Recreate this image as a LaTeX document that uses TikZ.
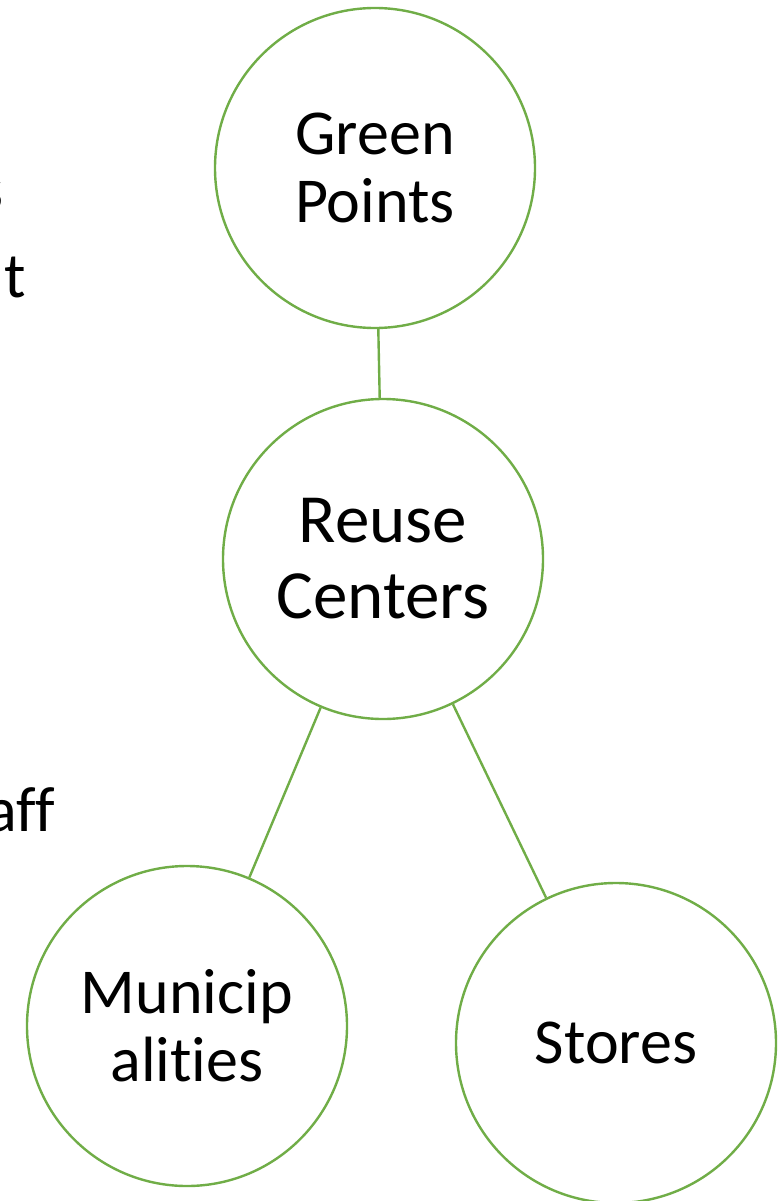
\documentclass[tikz,border=0pt]{standalone}
\usepackage{fontspec}
\setmainfont{Carlito}[Ligatures={NoCommon,NoRequired,NoContextual}]
\definecolor{accgreen}{HTML}{70AD47}
\begin{document}
\begin{tikzpicture}[x=1pt,y=-1pt,
  bubble/.style={circle,draw=accgreen,line width=2.4pt,fill=white,minimum size=320pt,inner sep=0pt,align=center,font=\fontsize{64}{68}\selectfont},
  bigtext/.style={font=\fontsize{69}{76}\selectfont},
  link/.style={draw=accgreen,line width=2.4pt},
  frag/.style={anchor=base east,inner sep=0pt,font=\fontsize{64}{68}\selectfont}]
\useasboundingbox (0,0) rectangle (779,1201);
\clip (0,0) rectangle (779,1201);
\node[frag] (f1) at (4,211) {s};
\node[frag] (f2) at (26,297) {t};
\node[frag] (f3) at (55,831) {aff};
\node[bubble] (gp) at (375,168) {Green\\Points};
\node[bubble,bigtext] (rc) at (383,559) {Reuse\\Centers};
\node[bubble] (mu) at (187,1026) {Municip\\alities};
\node[bubble] (st) at (616,1043) {Stores};
\draw[link] (gp) -- (rc);
\draw[link] (rc) -- (mu);
\draw[link] (rc) -- (st);
\end{tikzpicture}
\end{document}
